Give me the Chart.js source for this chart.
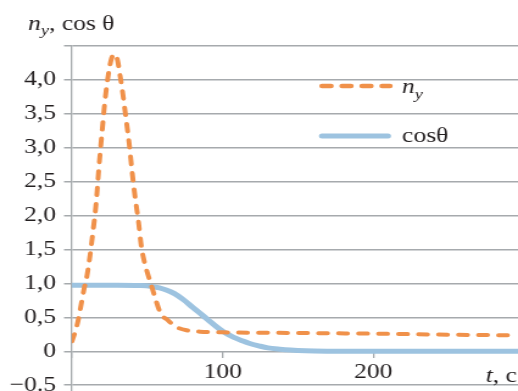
<!DOCTYPE html>
<html><head><meta charset="utf-8">
<script src="https://cdn.jsdelivr.net/npm/chart.js@4/dist/chart.umd.min.js"></script>
<style>html,body{margin:0;padding:0;background:#fff;overflow:hidden}canvas{display:block}</style>
</head><body>
<canvas id="c" width="425" height="391" style="width:518px;height:391px"></canvas>
<script>
// ---- data ----
const tNy = [0, 2, 4, 6, 8, 10, 12, 14, 16, 18, 20, 22, 24, 26, 28, 30, 32, 34, 36, 38, 40, 42, 44, 46, 48, 50, 52, 55, 58, 60, 63, 66, 70, 76, 85, 100, 150, 200, 250, 296];
const nY  = [0.15, 0.28, 0.45, 0.68, 0.92, 1.12, 1.42, 1.78, 2.18, 2.75, 3.25, 3.72, 4.06, 4.30, 4.38, 4.31, 4.05, 3.75, 3.40, 3.05, 2.62, 2.25, 1.93, 1.55, 1.32, 1.16, 1.02, 0.80, 0.60, 0.52, 0.47, 0.41, 0.35, 0.31, 0.29, 0.28, 0.27, 0.26, 0.245, 0.235];
const tCos = [0, 30, 45, 52, 58, 63, 68, 74, 80, 85, 90, 96, 101, 107, 113, 118, 124, 130, 138, 145, 155, 170, 185, 296];
const cosTheta = [0.975, 0.975, 0.97, 0.96, 0.935, 0.90, 0.85, 0.76, 0.65, 0.56, 0.47, 0.36, 0.28, 0.21, 0.155, 0.115, 0.08, 0.05, 0.03, 0.018, 0.008, 0.002, 0, 0];
const yTickValues = [-0.5, 0, 0.5, 1, 1.5, 2, 2.5, 3, 3.5, 4, 4.5];
const yTickLabels = ['\u22120.5', '0', '0,5', '1,0', '1,5', '2,0', '2,5', '3,0', '3,5', '4,0', ''];
const xTickValues = [0, 100, 200];
const xTickLabels = ['', '100', '200'];
const yTitle = ['n', 'y', ', cos \u03b8'];
const xTitle = ['t', ', c'];
const legendNames = [['n', 'y'], ['cos\u03b8', '']];

// ---- style ----
// the drawing is stretched horizontally (canvas 425 px wide shown at 518 px), like the reference
const SX = 518 / 425;
const px = (v) => v / SX;          // css x -> canvas x
const FONT = '"Liberation Serif", "Times New Roman", serif';
const FS = 21;
const FSUB = 15;
const ORANGE = '#f0914a';
const BLUE = '#9dc3e0';
const GRID = '#a6aaad';
const TEXT = '#231f20';

const textPlugin = {
  id: 'texts',
  afterDraw(chart) {
    const ctx = chart.ctx;
    ctx.save();
    ctx.fillStyle = TEXT;
    ctx.textBaseline = 'alphabetic';
    ctx.textAlign = 'left';
    // axis title (top-left)
    let x = px(28);
    ctx.font = 'italic ' + FS + 'px ' + FONT;
    ctx.fillText(yTitle[0], x, 30);
    x += ctx.measureText(yTitle[0]).width;
    ctx.font = 'italic ' + FSUB + 'px ' + FONT;
    ctx.fillText(yTitle[1], x, 35);
    x += ctx.measureText(yTitle[1]).width;
    ctx.font = FS + 'px ' + FONT;
    ctx.fillText(yTitle[2], x, 30);
    // x title (bottom-right)
    ctx.font = FS + 'px ' + FONT;
    const w2 = ctx.measureText(xTitle[1]).width;
    ctx.font = 'italic ' + FS + 'px ' + FONT;
    const w1 = ctx.measureText(xTitle[0]).width;
    const xs = px(517) - w1 - w2;
    ctx.fillText(xTitle[0], xs, 382);
    ctx.font = FS + 'px ' + FONT;
    ctx.fillText(xTitle[1], xs + w1, 382);
    // legend
    ctx.lineCap = 'round';
    ctx.strokeStyle = ORANGE; ctx.lineWidth = 4.5; ctx.setLineDash([px(9), px(11)]);
    ctx.beginPath(); ctx.moveTo(px(322), 86); ctx.lineTo(px(390), 86); ctx.stroke();
    ctx.setLineDash([]);
    ctx.strokeStyle = BLUE; ctx.lineWidth = 5;
    ctx.beginPath(); ctx.moveTo(px(322), 136); ctx.lineTo(px(388), 136); ctx.stroke();
    ctx.font = 'italic ' + FS + 'px ' + FONT;
    ctx.fillText(legendNames[0][0], px(402), 93);
    const nw = ctx.measureText(legendNames[0][0]).width;
    ctx.font = 'italic ' + FSUB + 'px ' + FONT;
    ctx.fillText(legendNames[0][1], px(402) + nw, 99);
    ctx.font = FS + 'px ' + FONT;
    ctx.fillText(legendNames[1][0], px(402), 142);
    ctx.restore();
  }
};

const zeroPad = (s) => { s.paddingLeft = 0; s.paddingRight = 0; s.paddingTop = 0; s.paddingBottom = 0; };

new Chart(document.getElementById('c'), {
  type: 'line',
  data: {
    datasets: [
      {
        label: 'n_y',
        data: tNy.map((t, i) => ({ x: t, y: nY[i] })),
        borderColor: ORANGE, borderWidth: 4, borderDash: [px(9), px(11)], borderCapStyle: 'round',
        pointRadius: 0, cubicInterpolationMode: 'monotone', fill: false
      },
      {
        label: 'cos\u03b8',
        data: tCos.map((t, i) => ({ x: t, y: cosTheta[i] })),
        borderColor: BLUE, borderWidth: 5, borderCapStyle: 'round',
        pointRadius: 0, cubicInterpolationMode: 'monotone', fill: false
      }
    ]
  },
  options: {
    responsive: false, animation: false, devicePixelRatio: 1,
    layout: { padding: { top: 46, left: 0, right: 0, bottom: 0 } },
    plugins: { legend: { display: false }, tooltip: { enabled: false }, title: { display: false } },
    scales: {
      x: {
        type: 'linear', min: 0, max: 296, position: { y: 0 },
        afterBuildTicks: (s) => { s.ticks = xTickValues.map(v => ({ value: v })); },
        afterFit: zeroPad,
        ticks: {
          callback: (v) => { const i = xTickValues.indexOf(v); return i >= 0 ? xTickLabels[i] : ''; },
          font: { family: FONT, size: FS }, color: TEXT, padding: 2, maxRotation: 0, autoSkip: false
        },
        grid: { drawOnChartArea: false, drawTicks: true, tickLength: 7, color: GRID, lineWidth: 1.3 },
        border: { display: false }
      },
      y: {
        type: 'linear', min: -0.585, max: 4.5,
        afterBuildTicks: (s) => { s.ticks = yTickValues.map(v => ({ value: v })); },
        afterFit: (s) => { s.width = px(72); zeroPad(s); },
        ticks: {
          callback: (v) => { const i = yTickValues.indexOf(v); return i >= 0 ? yTickLabels[i] : ''; },
          font: { family: FONT, size: FS }, color: TEXT, padding: px(8), autoSkip: false
        },
        grid: { color: GRID, lineWidth: 1.5, tickLength: px(8) },
        border: { color: GRID, width: 1.3 }
      }
    }
  },
  plugins: [textPlugin]
});
</script>
</body></html>
